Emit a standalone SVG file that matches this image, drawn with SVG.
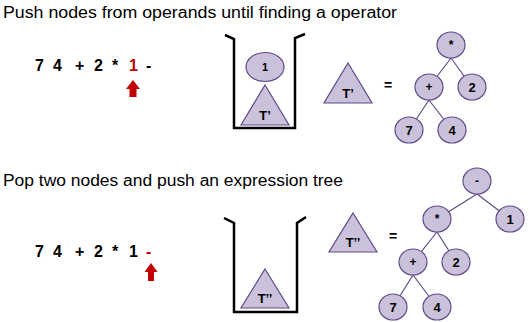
<svg xmlns="http://www.w3.org/2000/svg" width="529" height="322" viewBox="0 0 529 322">
<style>
.title{font-family:"Liberation Sans",Arial,sans-serif;font-size:16px;fill:#000}
.expr{font-family:"Liberation Sans",Arial,sans-serif;font-size:16px;font-weight:bold;fill:#000}
.red{fill:#C00000}
.node{fill:#CCC1DA;stroke:#5F4B8B;stroke-width:1.2}
.lbl{font-family:"Liberation Sans",Arial,sans-serif;font-size:12px;font-weight:bold;fill:#000;text-anchor:middle}
.edge{stroke:#5F4B8B;stroke-width:1.2;fill:none}
.box{stroke:#000;stroke-width:2.5;fill:none;stroke-linejoin:miter}
.arrow{fill:#C00000}
</style>
<text class="title" x="3" y="18" textLength="394" lengthAdjust="spacingAndGlyphs">Push nodes from operands until finding a operator</text>
<text class="title" x="3" y="186" textLength="340" lengthAdjust="spacingAndGlyphs">Pop two nodes and push an expression tree</text>

<g id="expr1">
<text class="expr" y="71"><tspan x="35">7</tspan><tspan x="53">4</tspan><tspan x="75">+</tspan><tspan x="94">2</tspan><tspan x="112">*</tspan><tspan x="129" class="red">1</tspan><tspan x="146">-</tspan></text>
<path class="arrow" d="M133 80 L140 89 L136.5 89 L136.5 97 L129.5 97 L129.5 89 L126 89 Z"/>
</g>
<g id="expr2">
<text class="expr" y="257"><tspan x="35">7</tspan><tspan x="53">4</tspan><tspan x="75">+</tspan><tspan x="94">2</tspan><tspan x="112">*</tspan><tspan x="129">1</tspan><tspan x="146" class="red">-</tspan></text>
<path class="arrow" d="M151 263 L157.5 272 L154 272 L154 281 L148 281 L148 272 L144.5 272 Z"/>
</g>

<g id="stack1">
<path class="box" d="M225 35 L234 39 L234 128 L295 128 L295 38 L305 34"/>
<ellipse class="node" cx="265" cy="67" rx="19" ry="14.5"/>
<text class="lbl" x="265" y="71" style="font-size:11px">1</text>
<polygon class="node" points="265,85 289,125 241,125"/>
<text class="lbl" x="265" y="120" style="font-size:13px">T’</text>
</g>
<g id="tri1">
<polygon class="node" points="348,63 372,103 324,103"/>
<text class="lbl" x="348" y="98" style="font-size:13px">T’</text>
<text class="lbl" x="388" y="90" style="font-size:14px">=</text>
</g>

<g id="stack2">
<path class="box" d="M224 218 L234 223 L234 312 L297 312 L297 223 L306 217"/>
<polygon class="node" points="265,269 289,308 241,308"/>
<text class="lbl" x="265" y="303" style="font-size:13px">T’’</text>
</g>
<g id="tri2">
<polygon class="node" points="353,213 377,252 329,252"/>
<text class="lbl" x="353" y="247" style="font-size:13px">T’’</text>
<text class="lbl" x="393" y="241" style="font-size:14px">=</text>
</g>

<g id="connectors">
<path class="edge" d="M451 58 L429 87 M451 58 L472 87 M429 100 L409 130 M429 100 L452 130"/>
<path class="edge" d="M477 194 L437 219 M477 194 L510 219 M437 232 L413 262 M437 232 L456 262 M413 275 L393 307 M413 275 L437 307"/>
</g>

<g id="t1-mul"><ellipse class="node" cx="451" cy="45" rx="14" ry="13"/><text class="lbl" x="451" y="49">*</text></g>
<g id="t1-plus"><ellipse class="node" cx="429" cy="87" rx="14" ry="13"/><text class="lbl" x="429" y="91">+</text></g>
<g id="t1-2"><ellipse class="node" cx="472" cy="87" rx="14" ry="13"/><text class="lbl" x="472" y="92" style="font-size:13px">2</text></g>
<g id="t1-7"><ellipse class="node" cx="409" cy="130" rx="14" ry="13"/><text class="lbl" x="409" y="135" style="font-size:13px">7</text></g>
<g id="t1-4"><ellipse class="node" cx="452" cy="130" rx="14" ry="13"/><text class="lbl" x="452" y="135" style="font-size:13px">4</text></g>

<g id="t2-minus"><ellipse class="node" cx="477" cy="181" rx="14" ry="13"/><text class="lbl" x="477" y="185">-</text></g>
<g id="t2-mul"><ellipse class="node" cx="437" cy="219" rx="14" ry="13"/><text class="lbl" x="437" y="223">*</text></g>
<g id="t2-1"><ellipse class="node" cx="510" cy="219" rx="14" ry="13"/><text class="lbl" x="510" y="224" style="font-size:13px">1</text></g>
<g id="t2-plus"><ellipse class="node" cx="413" cy="262" rx="14" ry="13"/><text class="lbl" x="413" y="266">+</text></g>
<g id="t2-2"><ellipse class="node" cx="456" cy="262" rx="14" ry="13"/><text class="lbl" x="456" y="267" style="font-size:13px">2</text></g>
<g id="t2-7"><ellipse class="node" cx="393" cy="307" rx="14" ry="13"/><text class="lbl" x="393" y="312" style="font-size:13px">7</text></g>
<g id="t2-4"><ellipse class="node" cx="437" cy="307" rx="14" ry="13"/><text class="lbl" x="437" y="312" style="font-size:13px">4</text></g>
</svg>
